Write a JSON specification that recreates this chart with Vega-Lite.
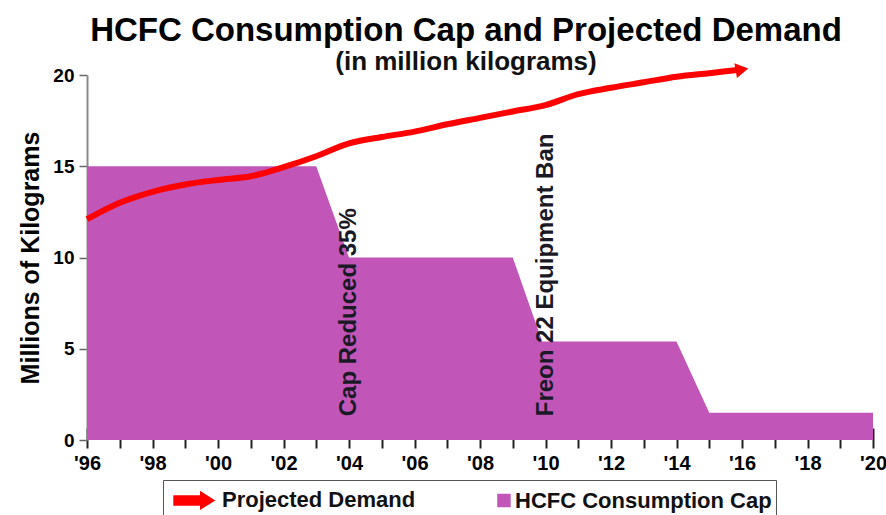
{
  "$schema": "https://vega.github.io/schema/vega-lite/v6.json",
  "width": 786,
  "height": 365,
  "autosize": {"type": "none"},
  "padding": {"left": 87, "top": 75, "right": 13, "bottom": 75},
  "background": "white",
  "config": {
    "font": "Liberation Sans",
    "view": {"stroke": null},
    "axis": {"grid": false}
  },
  "title": {
    "text": "HCFC Consumption Cap and Projected Demand",
    "subtitle": "(in million kilograms)",
    "fontSize": 33,
    "fontWeight": "bold",
    "color": "#000000",
    "subtitleFontSize": 26,
    "subtitleFontWeight": "bold",
    "subtitleColor": "#111111",
    "subtitlePadding": 1,
    "anchor": "middle",
    "dx": -14,
    "offset": -17
  },
  "datasets": {
    "cap": [
      {"year": 1996, "value": 15, "series": "HCFC Consumption Cap"},
      {"year": 2003, "value": 15, "series": "HCFC Consumption Cap"},
      {"year": 2004, "value": 10, "series": "HCFC Consumption Cap"},
      {"year": 2009, "value": 10, "series": "HCFC Consumption Cap"},
      {"year": 2009.9, "value": 5.4, "series": "HCFC Consumption Cap"},
      {"year": 2014, "value": 5.4, "series": "HCFC Consumption Cap"},
      {"year": 2015, "value": 1.5, "series": "HCFC Consumption Cap"},
      {"year": 2020, "value": 1.5, "series": "HCFC Consumption Cap"}
    ],
    "demand": [
      {"year": 1996, "value": 12.1, "series": "Projected Demand"},
      {"year": 1997, "value": 13.0, "series": "Projected Demand"},
      {"year": 1998, "value": 13.6, "series": "Projected Demand"},
      {"year": 1999, "value": 14.0, "series": "Projected Demand"},
      {"year": 2000, "value": 14.25, "series": "Projected Demand"},
      {"year": 2001, "value": 14.45, "series": "Projected Demand"},
      {"year": 2002, "value": 14.95, "series": "Projected Demand"},
      {"year": 2003, "value": 15.55, "series": "Projected Demand"},
      {"year": 2004, "value": 16.25, "series": "Projected Demand"},
      {"year": 2005, "value": 16.6, "series": "Projected Demand"},
      {"year": 2006, "value": 16.9, "series": "Projected Demand"},
      {"year": 2007, "value": 17.3, "series": "Projected Demand"},
      {"year": 2008, "value": 17.65, "series": "Projected Demand"},
      {"year": 2009, "value": 18.0, "series": "Projected Demand"},
      {"year": 2010, "value": 18.35, "series": "Projected Demand"},
      {"year": 2011, "value": 18.95, "series": "Projected Demand"},
      {"year": 2012, "value": 19.3, "series": "Projected Demand"},
      {"year": 2013, "value": 19.6, "series": "Projected Demand"},
      {"year": 2014, "value": 19.9, "series": "Projected Demand"},
      {"year": 2015, "value": 20.1, "series": "Projected Demand"},
      {"year": 2016, "value": 20.3, "series": "Projected Demand"}
    ]
  },
  "encoding": {
    "x": {
      "field": "year",
      "type": "quantitative",
      "scale": {"domain": [1996, 2020], "nice": false, "zero": false},
      "axis": {
        "title": null,
        "values": [1996,1997,1998,1999,2000,2001,2002,2003,2004,2005,2006,2007,2008,2009,2010,2011,2012,2013,2014,2015,2016,2017,2018,2019,2020],
        "labelExpr": "datum.value % 2 == 0 ? \"'\" + substring(toString(datum.value), 2, 4) : ''",
        "offset": -12,
        "domain": false,
        "tickSize": 20,
        "tickWidth": 2,
        "tickColor": "#222222",
        "labelPadding": 5,
        "labelFontSize": 20,
        "labelFontWeight": "bold",
        "labelColor": "#000000",
        "labelFlush": false,
        "labelBound": false,
        "labelOverlap": false
      }
    },
    "y": {
      "field": "value",
      "type": "quantitative",
      "scale": {"domain": [0, 20], "nice": false},
      "axis": {
        "title": "Millions of Kilograms",
        "titleFontSize": 25,
        "titleFontWeight": "bold",
        "titleColor": "#000000",
        "titlePadding": 9,
        "values": [0, 5, 10, 15, 20],
        "domainColor": "#8a8a8a",
        "domainWidth": 2,
        "tickColor": "#666666",
        "tickSize": 8,
        "tickWidth": 1.5,
        "labelFontSize": 19,
        "labelFontWeight": "bold",
        "labelColor": "#000000",
        "labelPadding": 5
      }
    }
  },
  "layer": [
    {
      "data": {"name": "cap"},
      "mark": {"type": "area", "opacity": 1},
      "encoding": {
        "color": {
          "field": "series",
          "type": "nominal",
          "scale": {"domain": ["Projected Demand", "HCFC Consumption Cap"], "range": ["#FF0000", "#C256B8"]},
          "legend": {
            "title": null,
            "orient": "none",
            "legendX": 76,
            "legendY": 405,
            "direction": "horizontal",
            "padding": 4,
            "symbolOffset": 11,
            "strokeColor": "#555555",
            "fillColor": "#ffffff",
            "symbolSize": 900,
            "symbolOpacity": 1,
            "labelFontSize": 22,
            "labelFontWeight": "bold",
            "labelColor": "#111111",
            "labelOffset": 12,
            "labelLimit": 400,
            "columnPadding": 44,
            "encode": {
              "symbols": {
                "update": {
                  "shape": {"signal": "datum.value === 'Projected Demand' ? 'M-1.33,-0.3H0.45V-0.55L1.33,0L0.45,0.55V0.3H-1.33Z' : 'M0.73,-0.4H1.53V0.4H0.73Z'"},
                  "fill": {"signal": "datum.value === 'Projected Demand' ? '#FF0000' : '#C256B8'"},
                  "stroke": {"signal": "datum.value === 'Projected Demand' ? 'transparent' : '#333333'"},
                  "strokeWidth": {"value": 1.5},
                  "opacity": {"value": 1},
                  "fillOpacity": {"value": 1}
                }
              }
            }
          }
        }
      }
    },
    {
      "mark": {"type": "rule", "color": "#8a8a8a", "strokeWidth": 2},
      "encoding": {"x": {"datum": 2020}, "y": null}
    },
    {
      "mark": {"type": "rule", "color": "#4a3a48", "strokeWidth": 2},
      "encoding": {"y": {"datum": 0}, "x": null}
    },
    {
      "data": {"name": "demand"},
      "mark": {"type": "line", "strokeWidth": 6, "interpolate": "monotone", "strokeCap": "butt"},
      "encoding": {
        "color": {"field": "series", "type": "nominal"}
      }
    },
    {
      "data": {"name": "demand"},
      "transform": [{"filter": "datum.year == 2016"}],
      "mark": {"type": "point", "shape": "triangle-right", "filled": true, "color": "#FF0000", "opacity": 1, "size": 220, "angle": 350},
      "encoding": {}
    },
    {
      "data": {"values": [
        {"year": 2004, "level": 1.3, "label": "Cap Reduced 35%"},
        {"year": 2010, "level": 1.3, "label": "Freon 22 Equipment Ban"}
      ]},
      "mark": {"type": "text", "angle": 270, "align": "left", "baseline": "middle", "fontSize": 24, "fontWeight": "bold", "color": "#1a1a26"},
      "encoding": {
        "x": {"field": "year", "type": "quantitative"},
        "y": {"field": "level", "type": "quantitative"},
        "text": {"field": "label", "type": "nominal"}
      }
    }
  ]
}
